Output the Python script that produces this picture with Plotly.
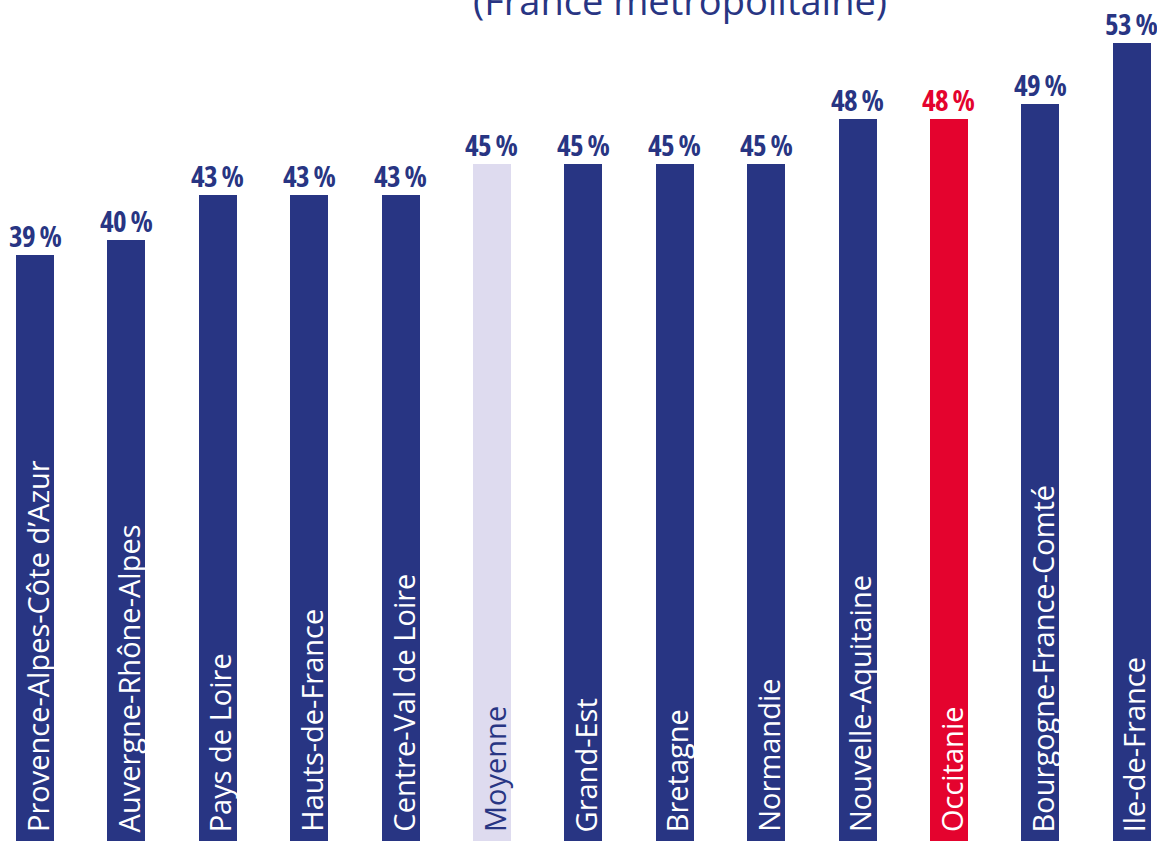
import plotly.graph_objects as go

regions = ["Provence-Alpes-Côte d’Azur", "Auvergne-Rhône-Alpes", "Pays de Loire",
           "Hauts-de-France", "Centre-Val de Loire", "Moyenne", "Grand-Est",
           "Bretagne", "Normandie", "Nouvelle-Aquitaine", "Occitanie",
           "Bourgogne-France-Comté", "Ile-de-France"]
values = [39, 40, 43, 43, 43, 45, 45, 45, 45, 48, 48, 49, 53]
value_labels = ["39 %", "40 %", "43 %", "43 %", "43 %", "45 %", "45 %", "45 %",
                "45 %", "48 %", "48 %", "49 %", "53 %"]
title_text = "(France métropolitaine)"

BLUE = "#283583"
RED = "#E4032E"
LAV = "#DEDBEF"

bar_colors = [LAV if r == "Moyenne" else RED if r == "Occitanie" else BLUE for r in regions]
in_colors = [BLUE if r == "Moyenne" else "white" for r in regions]
val_colors = [RED if r == "Occitanie" else BLUE for r in regions]

fig = go.Figure()
fig.add_trace(go.Bar(
    x=regions, y=values, width=0.416,
    marker=dict(color=bar_colors, line=dict(width=0)),
    hoverinfo="skip",
))

for r, v, lab, ic, vc in zip(regions, values, value_labels, in_colors, val_colors):
    # category label inside the bar, rotated
    fig.add_annotation(
        x=r, y=0.76, xref="x", yref="y", xanchor="center", yanchor="bottom",
        text=r, textangle=-90, showarrow=False, xshift=2,
        font=dict(family="Open Sans", size=29, color=ic),
    )
    # value label above the bar
    fig.add_annotation(
        x=r, y=v, xref="x", yref="y", xanchor="center", yanchor="bottom",
        text="<span style='font-stretch:condensed;letter-spacing:-0.6px'>%s</span>" % lab,
        showarrow=False, yshift=-2,
        font=dict(family="Open Sans", size=29, color=vc, weight="bold"),
    )

fig.add_annotation(
    x=0.5877, xref="paper", y=1 - 28 / 841, yref="paper", yanchor="bottom",
    text=title_text, showarrow=False,
    font=dict(family="Open Sans", size=38, color=BLUE),
)
fig.update_layout(
    width=1157, height=841,
    margin=dict(l=0, r=0, t=0, b=0),
    paper_bgcolor="white", plot_bgcolor="white",
    showlegend=False,
    xaxis=dict(range=[-0.383, 12.276], showticklabels=False, showgrid=False,
               zeroline=False, showline=False, ticks=""),
    yaxis=dict(range=[0.3, 55.85], showticklabels=False, showgrid=False,
               zeroline=False, showline=False, ticks=""),
    bargap=0,
)
fig.write_html("out.html", config={"displayModeBar": False},
               post_script="document.body.style.margin='0';")
